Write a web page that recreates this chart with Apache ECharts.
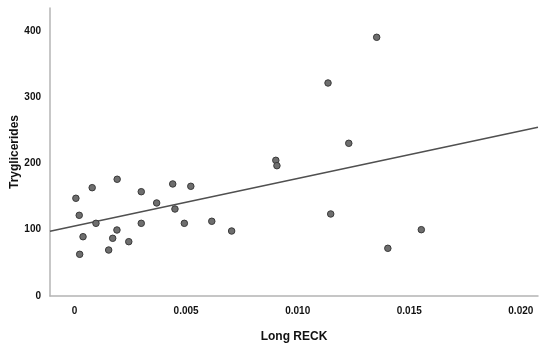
<!DOCTYPE html>
<html>
<head>
<meta charset="utf-8">
<script src="https://cdn.jsdelivr.net/npm/echarts@6/dist/echarts.min.js"></script>
<style>
html,body{margin:0;padding:0;background:#fff;}
#chart{width:550px;height:347px;}
</style>
</head>
<body>
<div id="chart"></div>
<script>
// Data
var reckLength = [0.00006,0.00079,0.00191,0.00021,0.00096,0.00038,0.00023,0.00153,0.00171,0.00190,
                  0.00243,0.00299,0.00299,0.00368,0.00440,0.00450,0.00521,0.00492,0.00615,0.00704,
                  0.01354,0.01136,0.01229,0.00902,0.00907,0.01148,0.01554,0.01404];
var triglycerides = [147.5,163.5,176.2,121.8,109.7,89.5,62.9,69.4,87.1,99.6,
                     82.0,157.4,109.7,140.4,169.1,131.3,165.6,109.7,112.8,98.1,
                     390.5,321.5,230.5,204.8,196.7,123.8,100.1,72.0];
var xTicks = [0, 0.005, 0.010, 0.015, 0.020];
var xTickLabels = ['0', '0.005', '0.010', '0.015', '0.020'];
var yTicks = [0, 100, 200, 300, 400];
var yTickLabels = ['0', '100', '200', '300', '400'];
var fitIntercept = 105.6;
var fitSlope = 7183;
var xRange = [-0.0011, 0.02077];
var yRange = [0, 434.7];

var points = reckLength.map(function (x, i) { return [x, triglycerides[i]]; });
var fitLine = xRange.map(function (x) { return [x, fitIntercept + fitSlope * x]; });

var chart = echarts.init(document.getElementById('chart'));
var font = 'Liberation Sans, Arial, Helvetica, sans-serif';
chart.setOption({
  animation: false,
  backgroundColor: '#ffffff',
  grid: { left: 50, right: 12, top: 8, bottom: 51, containLabel: false, outerBoundsMode: 'none' },
  xAxis: {
    type: 'value', min: xRange[0], max: xRange[1],
    name: 'Long RECK', nameLocation: 'middle', nameGap: 35, nameMoveOverlap: false,
    nameTextStyle: { fontFamily: font, fontWeight: 'bold', fontSize: 12, color: '#111' },
    axisLine: { show: true, onZero: false, lineStyle: { color: '#b4b4b4', width: 1.5 } },
    axisTick: { show: false },
    splitLine: { show: false },
    axisLabel: {
      customValues: xTicks, margin: 10,
      fontFamily: font, fontWeight: 'bold', fontSize: 10, color: '#111',
      formatter: function (v) { var i = xTicks.findIndex(function (t) { return Math.abs(t - v) < 1e-9; }); return i >= 0 ? xTickLabels[i] : ''; }
    }
  },
  yAxis: {
    type: 'value', min: yRange[0], max: yRange[1],
    name: 'Tryglicerides', nameLocation: 'middle', nameGap: 29, nameRotate: 90, nameMoveOverlap: false,
    nameTextStyle: { fontFamily: font, fontWeight: 'bold', fontSize: 12, color: '#111' },
    axisLine: { show: true, onZero: false, lineStyle: { color: '#b4b4b4', width: 1.5 } },
    axisTick: { show: false },
    splitLine: { show: false },
    axisLabel: {
      customValues: yTicks, margin: 9, padding: [3, 0, 0, 0],
      fontFamily: font, fontWeight: 'bold', fontSize: 10, color: '#111',
      formatter: function (v) { var i = yTicks.indexOf(v); return i >= 0 ? yTickLabels[i] : ''; }
    }
  },
  series: [
    {
      type: 'line', data: fitLine, showSymbol: false, silent: true,
      lineStyle: { color: '#505050', width: 1.5 }, z: 1
    },
    {
      type: 'scatter', data: points, symbol: 'circle', symbolSize: 6.5,
      itemStyle: { color: '#6e6e6e', borderColor: '#3a3a3a', borderWidth: 1, opacity: 1 }, z: 2
    }
  ]
});
</script>
</body>
</html>
